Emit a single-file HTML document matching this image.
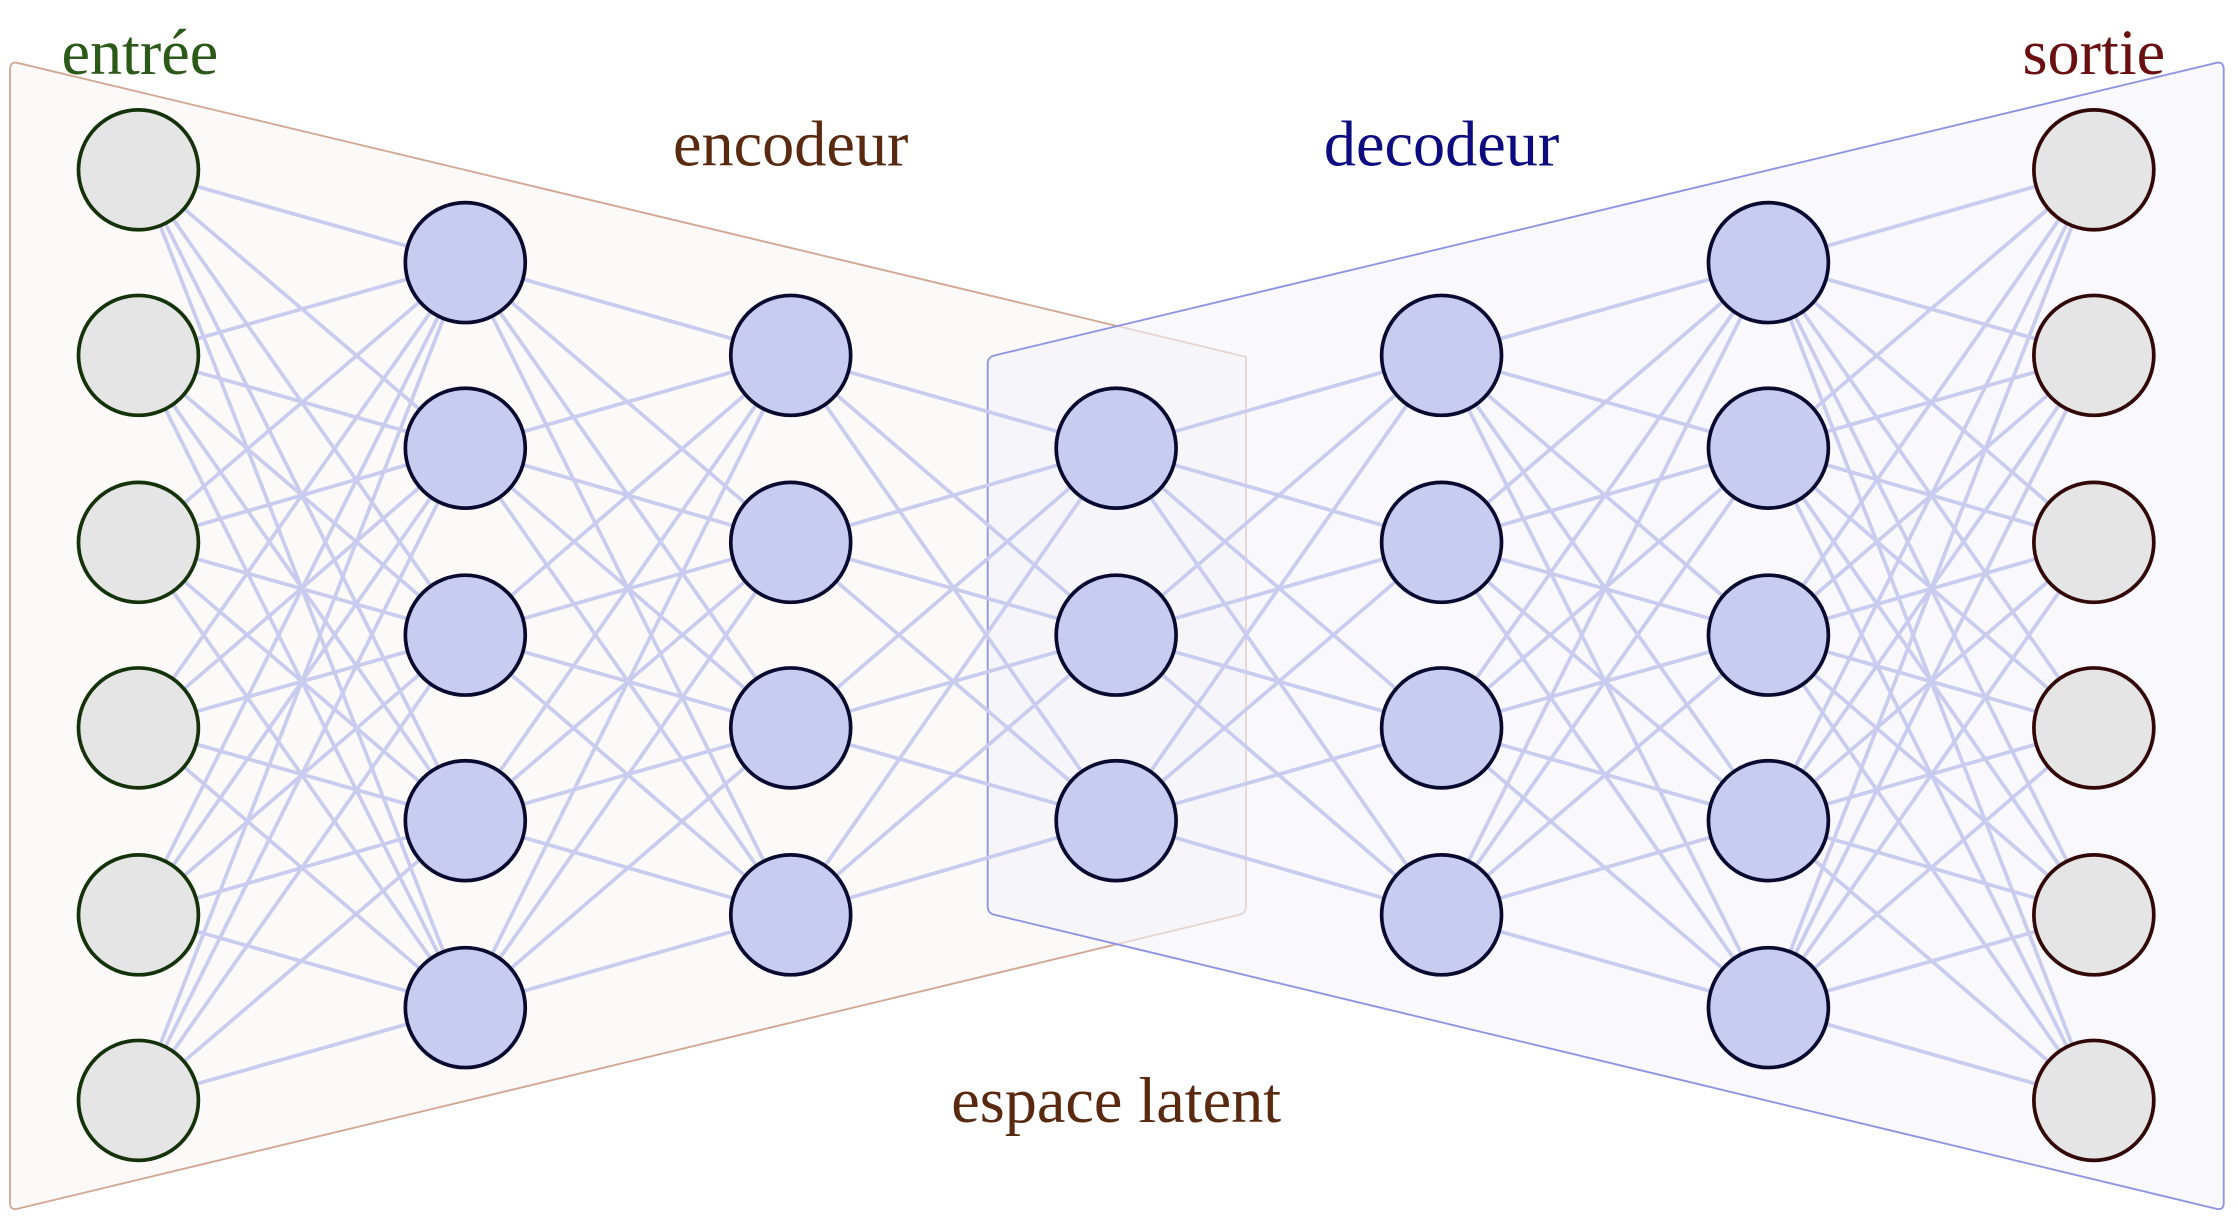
<!DOCTYPE html>
<html><head><meta charset="utf-8"><style>
html,body{margin:0;padding:0;background:#fff;width:2238px;height:1222px;overflow:hidden}
svg text{font-family:"Liberation Serif",serif;font-size:45px;text-anchor:middle}
</style></head><body>
<svg id="s" width="2238" height="1222" viewBox="0 0 1568 856.2" preserveAspectRatio="none" xmlns="http://www.w3.org/2000/svg">
<path d="M12,44 L873,250 Q873,250 873,255 L873,635 Q873,640 868,641 L12,847 Q7,848 7,843 L7,49 Q7,43 12,44 Z" fill="#fbfaf8" stroke="#d2a894" stroke-width="1.3"/>
<path d="M1553,44 L697,249 Q692,250 692,255 L692,635 Q692,640 697,641 L1553,847 Q1558,848 1558,843 L1558,49 Q1558,43 1553,44 Z" fill="#f3f3fc" fill-opacity="0.6" stroke="#8e94e2" stroke-width="1.3"/>
<g id="e" stroke="#c9cbef" stroke-width="2.6"></g>
<g id="n" stroke-width="2.6"></g>
<text x="98" y="52" fill="#2b5a18">entrée</text>
<text x="554" y="116" fill="#5a2a10">encodeur</text>
<text x="1010" y="116" fill="#0c0c80">decodeur</text>
<text x="1467" y="52" fill="#6a1010">sortie</text>
<text x="782" y="786" fill="#5a2a10">espace latent</text>
</svg>
<script>
var L=[[97,[119,249,380,510,641,771]],[326,[184,314,445,575,706]],[554,[249,380,510,641]],[782,[314,445,575]],[1010,[249,380,510,641]],[1239,[184,314,445,575,706]],[1467,[119,249,380,510,641,771]]];
var e='',n='';
for(var i=0;i<L.length-1;i++)for(var a of L[i][1])for(var b of L[i+1][1])e+='<line x1="'+L[i][0]+'" y1="'+a+'" x2="'+L[i+1][0]+'" y2="'+b+'"/>';
for(var i=0;i<L.length;i++)for(var y of L[i][1]){var f=(i==0||i==6)?'#e5e5e5':'#c9ccf1',s=i==0?'#15330a':(i==6?'#330808':'#0a0a30');n+='<circle cx="'+L[i][0]+'" cy="'+y+'" r="42" fill="'+f+'" stroke="'+s+'"/>';}
document.getElementById('e').innerHTML=e;document.getElementById('n').innerHTML=n;
</script>
</body></html>
